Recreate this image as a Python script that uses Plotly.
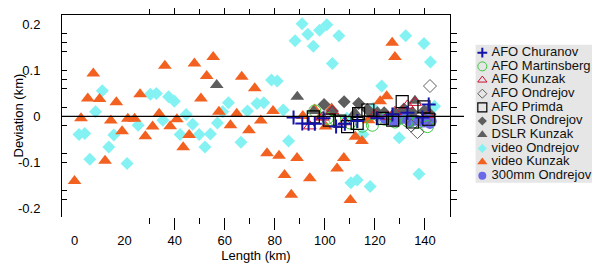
import plotly.graph_objects as go

# ---------------- data ----------------
video_kunzak_x = [0, 2.6, 5.3, 7.5, 10.0, 12.2, 14.5, 16.7, 19.0, 21.3, 24.0, 26.2, 28.3, 31.2, 33.8, 36.1,
                  38.2, 40.9, 43.4, 45.8, 47.9, 50.5, 52.8, 55.4, 57.7, 62.3, 64.8, 66.8, 69.7, 72.0, 74.4,
                  76.9, 79.3, 81.7, 83.9, 86.6, 88.9, 91.2, 94.0, 95.9, 98.2, 100.3, 102.7, 104.9, 107.6,
                  110.2, 112.2, 114.8, 117.5, 122.1, 124.7, 126.9, 128.0]
video_kunzak_y = [-0.140, -0.004, 0.039, 0.093, 0.038, -0.096, -0.009, 0.031, -0.032, -0.005, -0.005, 0.048,
                  -0.043, -0.022, 0.006, 0.110, -0.021, -0.006, -0.067, -0.040, 0.115, 0.039, 0.088, 0.129,
                  0.010, -0.019, 0.006, 0.086, -0.030, 0.061, -0.009, -0.080, 0.012, -0.085, -0.127, -0.170,
                  -0.090, 0.001, -0.134, 0.015, -0.001, -0.022, 0.017, -0.113, -0.090, -0.181, -0.044, -0.053,
                  -0.008, 0.033, 0.044, 0.160, 0.129]

video_ondrejov_x = [1.8, 4.1, 6.1, 8.4, 11.1, 13.7, 15.7, 21.0, 25.4, 30.3, 32.7, 35.3, 37.6, 39.9, 42.2, 44.6,
                    47.2, 49.8, 52.1, 54.3, 57.1, 59.2, 61.5, 66.5, 69.1, 72.9, 75.6, 78.7, 81.0, 83.4, 85.5,
                    88.1, 90.9, 93.2, 95.4, 97.9, 100.8, 103.0, 105.6, 108.8, 110.4, 112.9, 115.2, 118.1, 119.4,
                    122.7, 127.0, 129.7, 132.3, 134.0, 137.6, 139.6, 142.2, 143.8]
video_ondrejov_y = [-0.039, -0.037, -0.093, 0.010, 0.056, -0.066, -0.040, -0.102, -0.019, 0.048, 0.050, -0.008,
                    0.043, 0.033, -0.039, 0.004, -0.017, -0.039, -0.066, -0.038, -0.014, 0.010, 0.030, -0.056,
                    0.012, 0.028, 0.030, 0.079, 0.077, 0.014, -0.053, 0.164, 0.201, 0.178, 0.152, 0.187, 0.199,
                    0.115, 0.175, -0.004, -0.144, -0.138, -0.039, -0.152, 0.018, 0.066, -0.002, -0.046, 0.175,
                    -0.012, -0.125, 0.158, 0.118, 0.022]

dslr_kunzak_x = [56.8, 89.0, 95.5, 112.0, 119.0, 124.0, 131.0, 136.0, 141.0]
dslr_kunzak_y = [0.068, 0.043, 0.012, 0.008, 0.004, 0.005, 0.012, 0.034, 0.012]

dslr_ondrejov_x = [99.7, 103.0, 107.7, 113.5, 117.0, 121.0, 123.7, 128.0, 131.6, 135.0, 139.7, 142.0]
dslr_ondrejov_y = [0.026, 0.012, 0.032, 0.028, 0.015, 0.008, 0.008, 0.006, 0.016, 0.008, 0.012, 0.005]

mm300_ondrejov_x = [124, 126, 128, 130, 132, 134, 136, 138, 139.5, 141, 142, 142.5]
mm300_ondrejov_y = [-0.004, -0.008, -0.010, -0.006, -0.004, -0.012, -0.008, -0.010, -0.012, -0.006, -0.015, -0.010]

afo_churanov_x = [87.5, 91, 93.5, 96, 99.5, 104.5, 108, 113, 121, 127, 133, 139, 141.5]
afo_churanov_y = [-0.002, -0.015, -0.016, -0.016, -0.004, -0.022, -0.016, -0.010, -0.004, 0.004, 0.008, -0.002, 0.026]

afo_martinsberg_x = [96, 101, 104, 110, 115, 119, 124, 128, 133, 137, 141]
afo_martinsberg_y = [0.012, -0.004, -0.006, -0.014, -0.021, -0.019, -0.006, -0.012, -0.010, -0.013, -0.022]

afo_kunzak_x = [94, 99, 103, 108, 120, 125, 128, 133, 136, 141.5]
afo_kunzak_y = [-0.021, -0.002, 0.012, -0.012, 0.004, 0.000, 0.010, 0.024, 0.030, 0.004]

afo_ondrejov_x = [134.5, 137, 140, 142]
afo_ondrejov_y = [-0.020, -0.034, -0.008, 0.066]

afo_primda_x = [95.4, 101.8, 106, 109.1, 112.9, 113.5, 117.2, 123, 127.1, 130.9, 135, 139.6, 141.5]
afo_primda_y = [-0.001, -0.008, -0.010, -0.022, -0.015, 0.006, 0.014, -0.004, -0.008, 0.032, -0.012, 0.021, -0.006]

x_tick_labels = [0, 20, 40, 60, 80, 100, 120, 140]
x_major_ticks = [40, 60, 80, 100, 120, 140]
x_minor_ticks = [30, 50, 70, 90, 110, 130]
y_tick_vals = [-0.2, -0.1, 0, 0.1, 0.2]
y_tick_text = ["-0.2", "-0.1", "0", "0.1", "0.2"]
y_side_ticks = [0.18, 0.16, 0.14, 0.10, 0.08, 0.06, 0.02, -0.02, -0.08, -0.10, -0.16, -0.18]

legend_names = ["AFO Churanov", "AFO Martinsberg", "AFO Kunzak", "AFO Ondrejov", "AFO Primda",
                "DSLR Ondrejov", "DSLR Kunzak", "video Ondrejov", "video Kunzak", "300mm Ondrejov"]

# ---------------- styles ----------------
FONT = "Arial, Liberation Sans, sans-serif"
C_ORANGE = "#F26120"
C_CYAN = "#84F2F2"
C_GREY = "#5E5E5E"
C_BLUE = "#1414A8"
C_GREEN = "#3CC83C"
C_RED = "#CC1030"
C_ODIAM = "#606060"
C_300 = "#6868E8"

styles = {
    "AFO Churanov": dict(symbol="cross-thin", size=10, color=C_BLUE, line=dict(color=C_BLUE, width=2)),
    "AFO Martinsberg": dict(symbol="circle-open", size=12, color=C_GREEN, line=dict(color=C_GREEN, width=1)),
    "AFO Kunzak": dict(symbol="triangle-up-open", size=11, color=C_RED, line=dict(color=C_RED, width=1)),
    "AFO Ondrejov": dict(symbol="diamond-open", size=10, color=C_ODIAM, line=dict(color=C_ODIAM, width=1)),
    "AFO Primda": dict(symbol="square-open", size=12, color="black", line=dict(color="black", width=1.2)),
    "DSLR Ondrejov": dict(symbol="diamond", size=10, color=C_GREY),
    "DSLR Kunzak": dict(symbol="triangle-up", size=12, color=C_GREY),
    "video Ondrejov": dict(symbol="diamond", size=10, color=C_CYAN),
    "video Kunzak": dict(symbol="triangle-up", size=12, color=C_ORANGE),
    "300mm Ondrejov": dict(symbol="circle", size=11, color=C_300),
}
data = {
    "video Ondrejov": (video_ondrejov_x, video_ondrejov_y),
    "video Kunzak": (video_kunzak_x, video_kunzak_y),
    "DSLR Kunzak": (dslr_kunzak_x, dslr_kunzak_y),
    "DSLR Ondrejov": (dslr_ondrejov_x, dslr_ondrejov_y),
    "300mm Ondrejov": (mm300_ondrejov_x, mm300_ondrejov_y),
    "AFO Martinsberg": (afo_martinsberg_x, afo_martinsberg_y),
    "AFO Kunzak": (afo_kunzak_x, afo_kunzak_y),
    "AFO Ondrejov": (afo_ondrejov_x, afo_ondrejov_y),
    "AFO Primda": (afo_primda_x, afo_primda_y),
    "AFO Churanov": (afo_churanov_x, afo_churanov_y),
}

fig = go.Figure()
for name, (xs, ys) in data.items():
    m = dict(styles[name])
    fig.add_trace(go.Scatter(x=xs, y=ys, mode="markers", name=name, marker=m,
                             showlegend=False, xaxis="x", yaxis="y"))

# empty traces so that overlay axes get drawn
for xa, ya in [("x2", "y"), ("x3", "y"), ("x", "y2"), ("x", "y3")]:
    fig.add_trace(go.Scatter(x=[], y=[], xaxis=xa, yaxis=ya, showlegend=False, hoverinfo="skip"))

# custom legend
leg_rows = list(range(1, len(legend_names) + 1))
for i, name in enumerate(legend_names):
    m = dict(styles[name])
    m["size"] = max(m["size"] - 3, 7)
    fig.add_trace(go.Scatter(x=[0.054], y=[leg_rows[i]], mode="markers", marker=m,
                             xaxis="x4", yaxis="y4", showlegend=False, hoverinfo="skip"))
fig.add_trace(go.Scatter(x=[0.128] * len(legend_names), y=leg_rows, mode="text", text=legend_names,
                         textposition="middle right", textfont=dict(family=FONT, size=13, color="#111"),
                         xaxis="x4", yaxis="y4", showlegend=False, hoverinfo="skip", cliponaxis=False))

XR = [-5, 150]
YR = [-0.218, 0.22]
XD = [0, 388 / 538]
common_x = dict(range=XR, autorange=False, domain=XD, showgrid=False, zeroline=False, automargin=False)
common_y = dict(range=YR, autorange=False, showgrid=False, zeroline=False, automargin=False)

# the page body has an 8px margin, so the figure is 8px smaller each way
fig.update_layout(
    width=592, height=257,
    margin=dict(l=54, r=0, t=7, b=48, pad=0),
    paper_bgcolor="white", plot_bgcolor="white",
    font=dict(family=FONT, size=13, color="black"),
    xaxis=dict(**common_x, tickvals=x_tick_labels, ticks="", showline=False, anchor="y",
               tickfont=dict(size=13), ticklabelstandoff=14,
               title=dict(text="Length (km)", font=dict(size=13), standoff=0)),
    xaxis2=dict(**common_x, overlaying="x", side="top", anchor="y", tickvals=x_major_ticks,
                ticks="outside", ticklen=11, tickcolor="black", showticklabels=False,
                showline=True, linecolor="black", linewidth=1,
                minor=dict(tickvals=x_minor_ticks, ticks="outside", ticklen=5, tickcolor="black")),
    xaxis3=dict(**common_x, overlaying="x", side="bottom", anchor="y", tickvals=x_major_ticks,
                ticks="outside", ticklen=12, tickcolor="black", showticklabels=False, showline=False,
                minor=dict(tickvals=x_minor_ticks, ticks="outside", ticklen=6, tickcolor="black")),
    yaxis=dict(**common_y, tickvals=y_tick_vals, ticktext=y_tick_text, ticks="", showline=True,
               linecolor="black", linewidth=1, anchor="x", ticklabelstandoff=18,
               tickfont=dict(size=13)),
    yaxis2=dict(**common_y, overlaying="y", side="right", anchor="x", tickvals=y_side_ticks,
                ticks="outside", ticklen=6, tickcolor="black", showticklabels=False,
                showline=True, linecolor="black", linewidth=1),
    yaxis3=dict(**common_y, overlaying="y", side="left", anchor="x", tickvals=y_side_ticks,
                ticks="inside", ticklen=5, tickcolor="black", showticklabels=False, showline=False),
    xaxis4=dict(domain=[(475.6 - 62) / 538, 1], range=[0, 1], visible=False, anchor="y4",
                fixedrange=True),
    yaxis4=dict(domain=[1 - (182.7 - 15) / 202, 1 - (44.7 - 15) / 202], range=[10.51, 0.415],
                visible=False, anchor="x4", fixedrange=True),
    annotations=[
        dict(text="Deviation (km)", textangle=-90, xref="paper", x=-54 / 538, xanchor="left",
             yref="paper", y=0.5, yanchor="middle", showarrow=False, font=dict(size=13)),
    ],
    shapes=[
        dict(type="line", xref="paper", x0=0, x1=(464 - 62) / 538, yref="y", y0=0, y1=0,
             line=dict(color="black", width=1.2), layer="above"),
        dict(type="rect", xref="x4 domain", x0=0, x1=1, yref="y4 domain", y0=0, y1=1,
             fillcolor="#E6E6E6", line=dict(width=0), layer="below"),
    ],
)

fig.write_html("out.html")
